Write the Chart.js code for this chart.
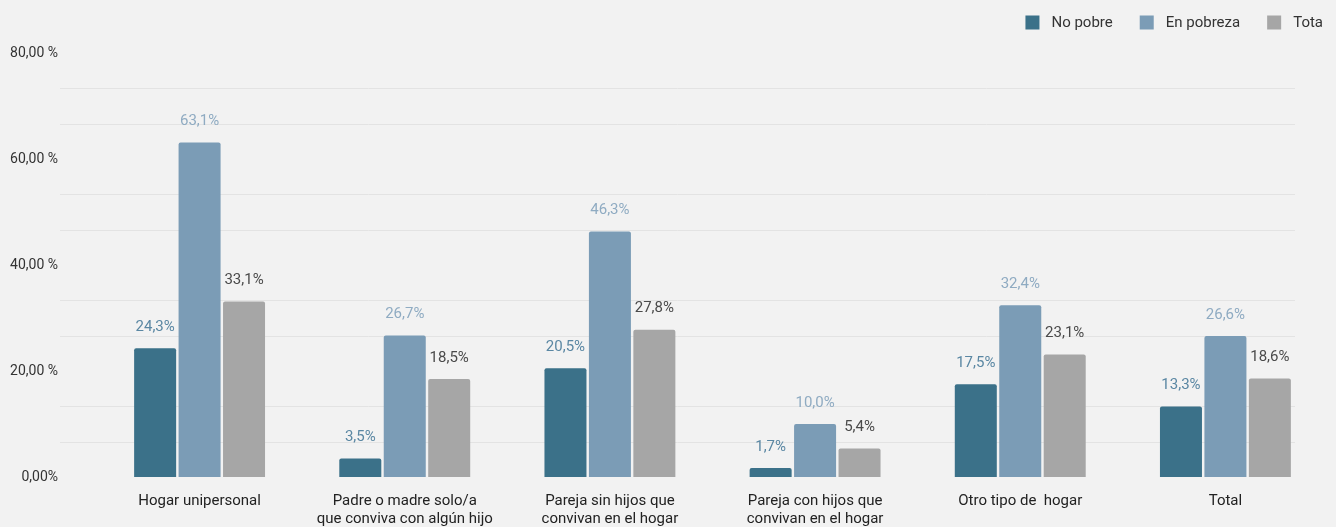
<!DOCTYPE html>
<html>
<head>
<meta charset="utf-8">
<script src="https://cdn.jsdelivr.net/npm/chart.js@4/dist/chart.umd.min.js"></script>
<style>
  html, body { margin: 0; padding: 0; background: #f2f2f2; }
  #wrap { width: 1336px; height: 527px; position: relative; }
</style>
</head>
<body>
<div id="wrap"><canvas id="c" width="1336" height="527"></canvas></div>
<script>
const categories = [
  'Hogar unipersonal',
  ['Padre o madre solo/a', 'que conviva con algún hijo'],
  ['Pareja sin hijos que', 'convivan en el hogar'],
  ['Pareja con hijos que', 'convivan en el hogar'],
  'Otro tipo de  hogar',
  'Total'
];
const seriesNames = ['No pobre', 'En pobreza', 'Tota'];
const noPobre   = [24.3, 3.5, 20.5, 1.7, 17.5, 13.3];
const enPobreza = [63.1, 26.7, 46.3, 10.0, 32.4, 26.6];
const total     = [33.1, 18.5, 27.8, 5.4, 23.1, 18.6];
const yTickValues = [0, 20, 40, 60, 80];
const yTickLabels = ['0,00%', '20,00 %', '40,00 %', '60,00 %', '80,00 %'];

const barColors = ['#3b7189', '#7b9cb6', '#a6a6a6'];
const labelColors = ['#5a87a3', '#8fabc2', '#4a4a4a'];

function fmt(v) { return v.toFixed(1).replace('.', ',') + '%'; }

const gridPlugin = {
  id: 'customGrid',
  beforeDatasetsDraw(chart) {
    const y = chart.scales.y, ca = chart.chartArea, ctx = chart.ctx;
    ctx.save();
    ctx.strokeStyle = '#e3e3e3';
    ctx.lineWidth = 1;
    y.ticks.forEach(t => {
      const v = t.value;
      if (v <= 0) return;
      if (Math.abs(v / 20 - Math.round(v / 20)) < 1e-6) return;
      const py = Math.round(y.getPixelForValue(v)) + 0.5;
      ctx.beginPath();
      ctx.moveTo(ca.left - 37, py);
      ctx.lineTo(ca.right - 33, py);
      ctx.stroke();
    });
    ctx.restore();
  }
};

const labelPlugin = {
  id: 'valueLabels',
  afterDatasetsDraw(chart) {
    const ctx = chart.ctx;
    ctx.save();
    ctx.font = '15px Roboto';
    ctx.textAlign = 'center';
    ctx.textBaseline = 'middle';
    chart.data.datasets.forEach((ds, i) => {
      const meta = chart.getDatasetMeta(i);
      ctx.fillStyle = labelColors[i];
      meta.data.forEach((el, j) => {
        ctx.fillText(fmt(ds.data[j]), el.x, el.y - 21);
      });
    });
    ctx.restore();
  }
};

const legendPlugin = {
  id: 'customLegend',
  afterDraw(chart) {
    const ctx = chart.ctx;
    ctx.save();
    ctx.font = '15px Roboto';
    ctx.textBaseline = 'middle';
    ctx.textAlign = 'left';
    const box = 14, boxGap = 12, itemGap = 27, rightEdge = chart.width - 13, midY = 22.5;
    const items = chart.data.datasets.map(ds => ({ text: ds.label, color: ds.backgroundColor, w: ctx.measureText(ds.label).width }));
    let totalW = items.reduce((s, it) => s + box + boxGap + it.w, 0) + itemGap * (items.length - 1);
    let x = rightEdge - totalW;
    items.forEach(it => {
      ctx.fillStyle = it.color;
      ctx.fillRect(x, midY - box / 2, box, box);
      ctx.fillStyle = '#333333';
      ctx.fillText(it.text, x + box + boxGap, midY + 1);
      x += box + boxGap + it.w + itemGap;
    });
    ctx.restore();
  }
};

const makeDs = (label, data, i) => ({
  label, data,
  backgroundColor: barColors[i],
  borderRadius: 2,
  borderSkipped: 'bottom',
  categoryPercentage: 0.65,
  barPercentage: 0.945
});

new Chart(document.getElementById('c'), {
  type: 'bar',
  data: {
    labels: categories,
    datasets: [
      makeDs(seriesNames[0], noPobre, 0),
      makeDs(seriesNames[1], enPobreza, 1),
      makeDs(seriesNames[2], total, 2)
    ]
  },
  options: {
    responsive: false,
    animation: false,
    layout: { padding: { top: 53, right: 8, left: 0, bottom: 0 } },
    plugins: {
      legend: { display: false },
      tooltip: { enabled: false }
    },
    scales: {
      x: {
        offset: true,
        grid: { display: false, drawTicks: false },
        border: { display: false },
        afterFit(scale) { scale.height = 50; },
        ticks: {
          color: '#222222',
          font: { family: 'Roboto', size: 15 },
          padding: 15,
          maxRotation: 0,
          autoSkip: false
        }
      },
      y: {
        min: 0, max: 80,
        grid: { display: false, drawTicks: false },
        border: { display: false },
        afterFit(scale) { scale.width = 97; },
        ticks: {
          stepSize: 80 / 12,
          autoSkip: false,
          padding: 39,
          color: '#333333',
          font: { family: 'Roboto', size: 14 },
          callback(v) {
            const k = yTickValues.findIndex(t => Math.abs(t - v) < 1e-6);
            return k >= 0 ? yTickLabels[k] : '';
          }
        }
      }
    }
  },
  plugins: [gridPlugin, labelPlugin, legendPlugin]
});
</script>
</body>
</html>
